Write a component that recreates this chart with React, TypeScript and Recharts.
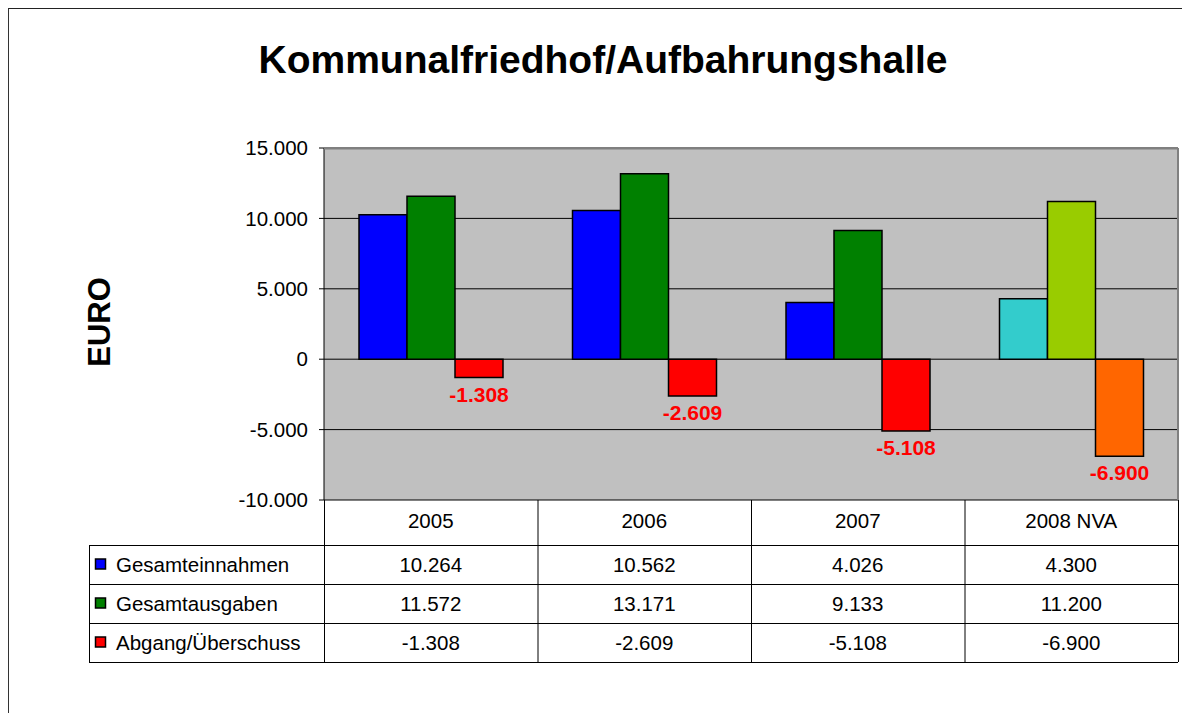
import React from "react";
import {
  BarChart,
  Bar,
  XAxis,
  YAxis,
  CartesianGrid,
  Cell,
  LabelList,
} from "recharts";

// ─── Data ─────────────────────────────────────────────────────────────────────
const years = ["2005", "2006", "2007", "2008 NVA"];
const einnahmen = [10264, 10562, 4026, 4300];
const ausgaben = [11572, 13171, 9133, 11200];
const saldo = [-1308, -2609, -5108, -6900];
const seriesNames = ["Gesamteinnahmen", "Gesamtausgaben", "Abgang/Überschuss"];
const seriesValues = [einnahmen, ausgaben, saldo];
const yTicks = [-10000, -5000, 0, 5000, 10000, 15000];
const colors = ["#0000FF", "#008000", "#FF0000"];
const colors2008 = ["#33CCCC", "#99CC00", "#FF6600"];

const data = years.map((year, i) => ({
  year,
  e: einnahmen[i],
  a: ausgaben[i],
  s: saldo[i],
}));

const FONT = '"Liberation Sans", Arial, sans-serif';
const W = 1182;
const H = 705;
const PL = 316; // plot left
const PR = 1170; // plot right
const PT = 140; // plot top
const PB = 492; // plot bottom
const XH = 45; // year row height
const ROW = 39;
const CW = (PR - PL) / years.length;

function fmt(v: number) {
  const s = Math.abs(v)
    .toString()
    .replace(/\B(?=(\d{3})+(?!\d))/g, ".");
  return (v < 0 ? "-" : "") + s;
}

function SaldoLabel(props: any) {
  const vb = props.viewBox && props.viewBox.width != null ? props.viewBox : props;
  const { x, y, width, height } = vb;
  const bottom = Math.max(y, y + height);
  return (
    <text
      x={x + width / 2}
      y={bottom + 24}
      textAnchor="middle"
      fill="#FF0000"
      fontWeight="bold"
      fontSize={21}
      fontFamily={FONT}
    >
      {fmt(props.value)}
    </text>
  );
}

function TableOverlay() {
  const rowTop = PB + XH;
  const tableBottom = rowTop + ROW * seriesNames.length;
  return (
    <svg
      width={W}
      height={H}
      style={{ position: "absolute", left: 0, top: 0, pointerEvents: "none" }}
      fontFamily={FONT}
    >
      {/* title and axis label */}
      <text x={595} y={65} textAnchor="middle" fontSize={39} fontWeight="bold" fill="#000">
        Kommunalfriedhof/Aufbahrungshalle
      </text>
      <text
        x={91}
        y={314}
        transform="rotate(-90 91 314)"
        textAnchor="middle"
        dominantBaseline="central"
        fontSize={31}
        fontWeight="bold"
        fill="#000"
      >
        EURO
      </text>

      {/* plot frame top/right */}
      <line x1={PL} x2={PR} y1={PT + 0.5} y2={PT + 0.5} stroke="#808080" strokeWidth={2} />
      <line x1={PR} x2={PR} y1={PT} y2={PB} stroke="#808080" strokeWidth={2} />

      {/* table lines */}
      {seriesNames.map((_, i) => (
        <line
          key={"h" + i}
          x1={81}
          x2={PR}
          y1={rowTop + ROW * i + 0.5}
          y2={rowTop + ROW * i + 0.5}
          stroke="#000"
        />
      ))}
      <line x1={81} x2={PR} y1={tableBottom + 0.5} y2={tableBottom + 0.5} stroke="#000" />
      <line x1={81.5} x2={81.5} y1={rowTop} y2={tableBottom} stroke="#000" />
      {years.concat([""]).map((_, i) => (
        <line
          key={"v" + i}
          x1={PL + CW * i + 0.5}
          x2={PL + CW * i + 0.5}
          y1={PB}
          y2={tableBottom}
          stroke="#000"
        />
      ))}

      {/* table content */}
      {seriesNames.map((name, r) => {
        const cy = rowTop + ROW * r + ROW / 2;
        return (
          <g key={name}>
            <rect x={87.5} y={cy - 5.5} width={10} height={10} fill={colors[r]} stroke="#000" strokeWidth={1.5} />
            <text x={108} y={cy + 7.5} fontSize={20.5} fill="#000">
              {name}
            </text>
            {seriesValues[r].map((v, c) => (
              <text key={c} x={PL + CW * (c + 0.5)} y={cy + 7.5} textAnchor="middle" fontSize={20.5} fill="#000">
                {fmt(v)}
              </text>
            ))}
          </g>
        );
      })}
    </svg>
  );
}

export default function App() {
  return (
    <div style={{ position: "relative", width: W, height: H, fontFamily: FONT }}>
      <div
        style={{
          position: "absolute",
          left: -1,
          top: -1,
          width: W + 1,
          height: H + 1,
          borderLeft: "2px solid #333",
          borderTop: "2px solid #222",
          boxSizing: "border-box",
        }}
      />
      <div style={{ position: "absolute", left: 0, top: 0 }}>
        <BarChart
          width={W}
          height={H}
          data={data}
          margin={{ top: PT, right: W - PR, left: PL - 80, bottom: H - PB - XH }}
          barGap={0}
          barSize={48}
        >
          <CartesianGrid vertical={false} stroke="#000" fill="#C0C0C0" fillOpacity={1} />
          <XAxis
            dataKey="year"
            height={XH}
            axisLine={false}
            tickLine={false}
            tickMargin={7}
            tick={{ fontSize: 20.5, fill: "#000", fontFamily: FONT }}
          />
          <YAxis
            width={80}
            domain={[-10000, 15000]}
            ticks={yTicks}
            interval={0}
            tickFormatter={fmt}
            axisLine={{ stroke: "#000" }}
            tickLine={{ stroke: "#000" }}
            tickSize={5}
            tickMargin={11}
            tick={{ fontSize: 20.5, fill: "#000", fontFamily: FONT }}
          />
          <Bar dataKey="e" name={seriesNames[0]} stroke="#000" strokeWidth={1.5} isAnimationActive={false}>
            {data.map((_, i) => (
              <Cell key={i} fill={i === 3 ? colors2008[0] : colors[0]} />
            ))}
          </Bar>
          <Bar dataKey="a" name={seriesNames[1]} stroke="#000" strokeWidth={1.5} isAnimationActive={false}>
            {data.map((_, i) => (
              <Cell key={i} fill={i === 3 ? colors2008[1] : colors[1]} />
            ))}
          </Bar>
          <Bar dataKey="s" name={seriesNames[2]} stroke="#000" strokeWidth={1.5} isAnimationActive={false}>
            {data.map((_, i) => (
              <Cell key={i} fill={i === 3 ? colors2008[2] : colors[2]} />
            ))}
            <LabelList dataKey="s" content={SaldoLabel} />
          </Bar>
        </BarChart>
      </div>
      <TableOverlay />
    </div>
  );
}
